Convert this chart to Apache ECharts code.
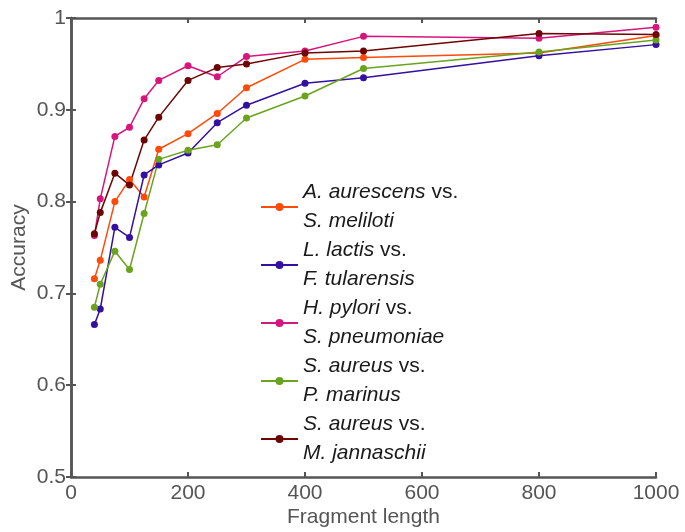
<!DOCTYPE html>
<html>
<head>
<meta charset="utf-8">
<script src="https://cdn.jsdelivr.net/npm/echarts@6/dist/echarts.min.js"></script>
<style>html,body{margin:0;padding:0;background:#fff}#c{width:685px;height:532px}</style>
</head>
<body>
<div id="c"></div>
<script>
var lengths = [40, 50, 75, 100, 125, 150, 200, 250, 300, 400, 500, 800, 1000];
var aurescens = [0.716, 0.736, 0.800, 0.824, 0.805, 0.857, 0.874, 0.896, 0.924, 0.955, 0.957, 0.962, 0.981];
var lactis = [0.666, 0.683, 0.772, 0.761, 0.829, 0.840, 0.853, 0.886, 0.905, 0.929, 0.935, 0.959, 0.971];
var pylori = [0.763, 0.803, 0.871, 0.881, 0.912, 0.932, 0.948, 0.936, 0.958, 0.964, 0.980, 0.978, 0.990];
var marinus = [0.685, 0.710, 0.746, 0.726, 0.787, 0.846, 0.856, 0.862, 0.891, 0.915, 0.945, 0.963, 0.976];
var jannaschii = [0.765, 0.788, 0.831, 0.818, 0.867, 0.892, 0.932, 0.946, 0.950, 0.962, 0.964, 0.983, 0.982];
var xTicks = [0, 200, 400, 600, 800, 1000];
var yTicks = [0.5, 0.6, 0.7, 0.8, 0.9, 1];

var seriesDefs = [
  {name: 'aur', label: '{i|A. aurescens} vs.\n{i|S. meliloti}', data: aurescens, color: '#FF4A0A'},
  {name: 'lac', label: '{i|L. lactis} vs.\n{i|F. tularensis}', data: lactis, color: '#3310A0'},
  {name: 'pyl', label: '{i|H. pylori} vs.\n{i|S. pneumoniae}', data: pylori, color: '#D8157C'},
  {name: 'mar', label: '{i|S. aureus} vs.\n{i|P. marinus}', data: marinus, color: '#6AA31E'},
  {name: 'jan', label: '{i|S. aureus} vs.\n{i|M. jannaschii}', data: jannaschii, color: '#6E0505'}
];
var labelMap = {};
seriesDefs.forEach(function(s){ labelMap[s.name] = s.label; });

var axisColor = '#555';
var font = 'Liberation Sans, Arial, sans-serif';

var chart = echarts.init(document.getElementById('c'));
chart.setOption({
  animation: false,
  backgroundColor: '#fff',
  grid: {left: 71, right: 29, top: 18, bottom: 55, containLabel: false, outerBoundsMode: 'none'},
  legend: {
    orient: 'vertical',
    left: 260,
    top: 178,
    padding: 0,
    itemWidth: 37,
    itemHeight: 10,
    itemGap: 0,
    data: seriesDefs.map(function(s){ return s.name; }),
    formatter: function(n){ return labelMap[n]; },
    textStyle: {
      fontFamily: font,
      fontSize: 21,
      color: '#1a1a1a',
      lineHeight: 29,
      rich: {i: {fontStyle: 'italic', fontSize: 21, fontFamily: font, color: '#1a1a1a', lineHeight: 29}}
    }
  },
  xAxis: [{
    type: 'value', min: 0, max: 1000, interval: 200,
    name: 'Fragment length', nameLocation: 'middle', nameGap: 30, nameMoveOverlap: false,
    nameTextStyle: {fontSize: 21, color: axisColor, fontFamily: font},
    axisLine: {show: true, lineStyle: {color: axisColor, width: 2.5}},
    axisTick: {show: true, inside: true, length: 5, lineStyle: {color: axisColor, width: 2}},
    axisLabel: {fontSize: 21, color: axisColor, fontFamily: font, margin: 6,
      formatter: function(v){ return xTicks.indexOf(v) >= 0 ? String(v) : ''; }},
    splitLine: {show: false}
  }, {
    type: 'value', min: 0, max: 1000, interval: 200, position: 'top',
    axisLine: {show: true, lineStyle: {color: axisColor, width: 2.5}},
    axisTick: {show: true, inside: true, length: 5, lineStyle: {color: axisColor, width: 2}},
    axisLabel: {show: false}, splitLine: {show: false}
  }],
  yAxis: [{
    type: 'value', min: 0.5, max: 1, interval: 0.1,
    name: 'Accuracy', nameLocation: 'middle', nameGap: 41, nameMoveOverlap: false,
    nameTextStyle: {fontSize: 21, color: axisColor, fontFamily: font},
    axisLine: {show: true, lineStyle: {color: axisColor, width: 2.5}},
    axisTick: {show: true, inside: true, length: 5, lineStyle: {color: axisColor, width: 2}},
    axisLabel: {fontSize: 21, color: axisColor, fontFamily: font, margin: 5,
      formatter: function(v){ var r = Math.round(v*10)/10; return yTicks.indexOf(r) >= 0 ? String(r) : ''; }},
    splitLine: {show: false}
  }, {
    type: 'value', min: 0.5, max: 1, interval: 0.1, position: 'right',
    axisLine: {show: true, lineStyle: {color: axisColor, width: 2.5}},
    axisTick: {show: true, inside: true, length: 5, lineStyle: {color: axisColor, width: 2}},
    axisLabel: {show: false}, splitLine: {show: false}
  }],
  series: seriesDefs.map(function(s){
    return {
      name: s.name, type: 'line',
      data: lengths.map(function(x, i){ return [x, s.data[i]]; }),
      symbol: 'circle', symbolSize: 7,
      lineStyle: {color: s.color, width: 1.5},
      itemStyle: {color: s.color},
      z: 3
    };
  })
});
</script>
</body>
</html>
